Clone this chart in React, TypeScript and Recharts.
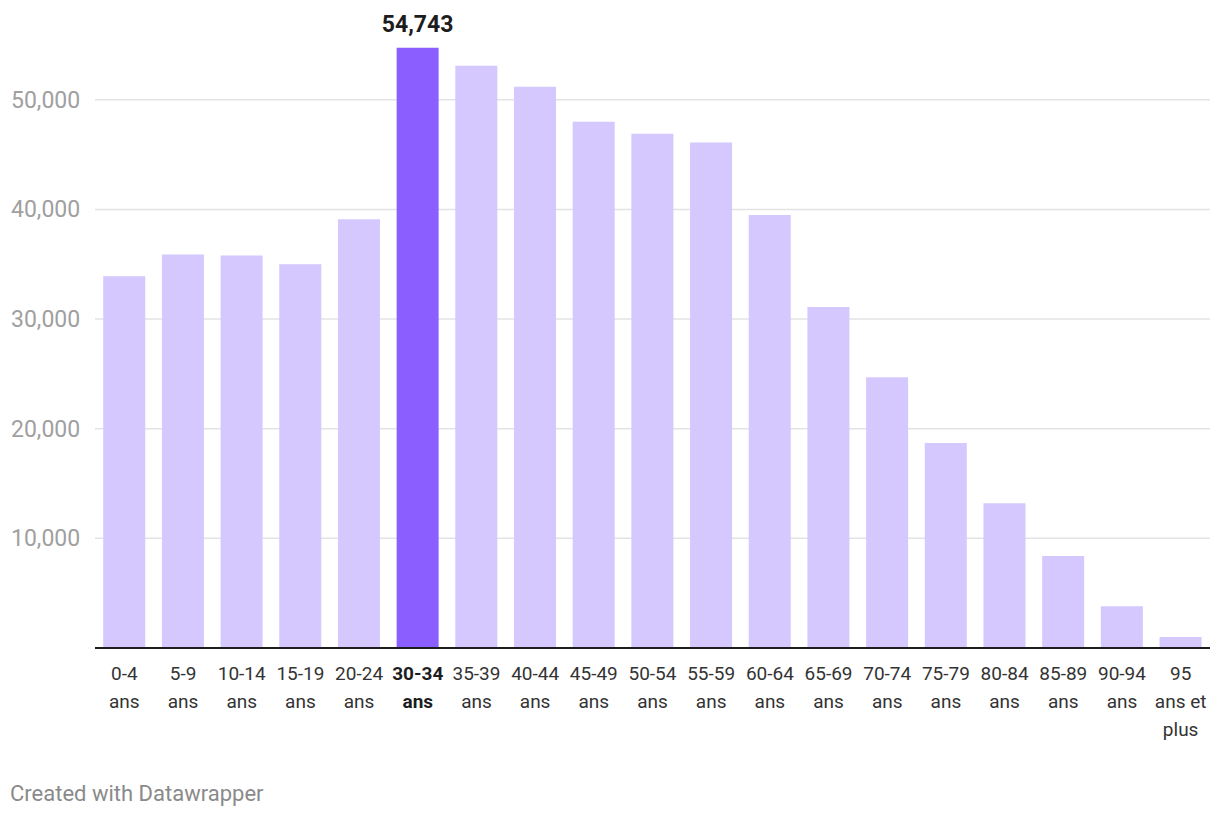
import { BarChart, Bar, XAxis, YAxis, CartesianGrid, Cell, LabelList } from 'recharts'

const categories = [
  '0-4\nans', '5-9\nans', '10-14\nans', '15-19\nans', '20-24\nans', '30-34\nans',
  '35-39\nans', '40-44\nans', '45-49\nans', '50-54\nans', '55-59\nans', '60-64\nans',
  '65-69\nans', '70-74\nans', '75-79\nans', '80-84\nans', '85-89\nans', '90-94\nans',
  '95\nans et\nplus',
]
const population = [
  33900, 35900, 35800, 35000, 39100, 54743, 53100, 51200, 48000, 46900, 46100,
  39500, 31100, 24700, 18700, 13200, 8400, 3800, 1000,
]
const highlightIndex = 5
const yTicks = [10000, 20000, 30000, 40000, 50000]

const data = categories.map((name, i) => ({ name, value: population[i] }))

const fmt = (v: number) => v.toLocaleString('en-US')

// category labels split over several lines, highlighted one in bold
function CategoryTick({ x, y, payload, index }: any) {
  const lines = String(payload.value).split('\n')
  const bold = index === highlightIndex
  return (
    <text
      x={x}
      y={y + 32}
      textAnchor="middle"
      fontSize={19}
      fill={bold ? '#1d1d1d' : '#333'}
      fontWeight={bold ? 700 : 400}
    >
      {lines.map((l, i) => (
        <tspan key={i} x={x} dy={i === 0 ? 0 : 28}>{l}</tspan>
      ))}
    </text>
  )
}

function ValueTick({ y, payload }: any) {
  return (
    <text x={11} y={y + 8} textAnchor="start" fontSize={23} fill="#a0a0a0">
      {fmt(payload.value)}
    </text>
  )
}

function TopLabel(props: any) {
  const { x, y, width, value, index } = props
  if (index !== highlightIndex) return null
  return (
    <text x={x + width / 2} y={y - 16} textAnchor="middle" fontSize={23} fontWeight={700} fill="#1d1d1d">
      {fmt(value)}
    </text>
  )
}

export default function App() {
  return (
    <div style={{ position: 'absolute', left: 0, top: 0, width: 1220, height: 818, background: '#fff', fontFamily: 'Roboto, sans-serif' }}>
      <BarChart
        width={1220}
        height={818}
        data={data}
        margin={{ top: 45, right: 10, left: 10, bottom: 169 }}
        barCategoryGap="14%"
      >
        <CartesianGrid vertical={false} stroke="#e3e3e3" strokeWidth={1.5} horizontalValues={yTicks} />
        <YAxis
          width={85}
          domain={[0, 55000]}
          ticks={yTicks}
          axisLine={false}
          tickLine={false}
          tick={<ValueTick />}
        />
        <XAxis
          dataKey="name"
          height={1}
          interval={0}
          axisLine={{ stroke: '#1d1d1d', strokeWidth: 2 }}
          tickLine={false}
          tickSize={0}
          tickMargin={0}
          tick={<CategoryTick />}
        />
        <Bar dataKey="value" isAnimationActive={false}>
          {data.map((_, i) => (
            <Cell key={i} fill={i === highlightIndex ? '#8a5eff' : '#d4c8fe'} />
          ))}
          <LabelList dataKey="value" content={<TopLabel />} />
        </Bar>
      </BarChart>
      <div style={{ position: 'absolute', left: 10, top: 781, fontSize: 22, color: '#8a8a8a' }}>
        Created with Datawrapper
      </div>
    </div>
  )
}
